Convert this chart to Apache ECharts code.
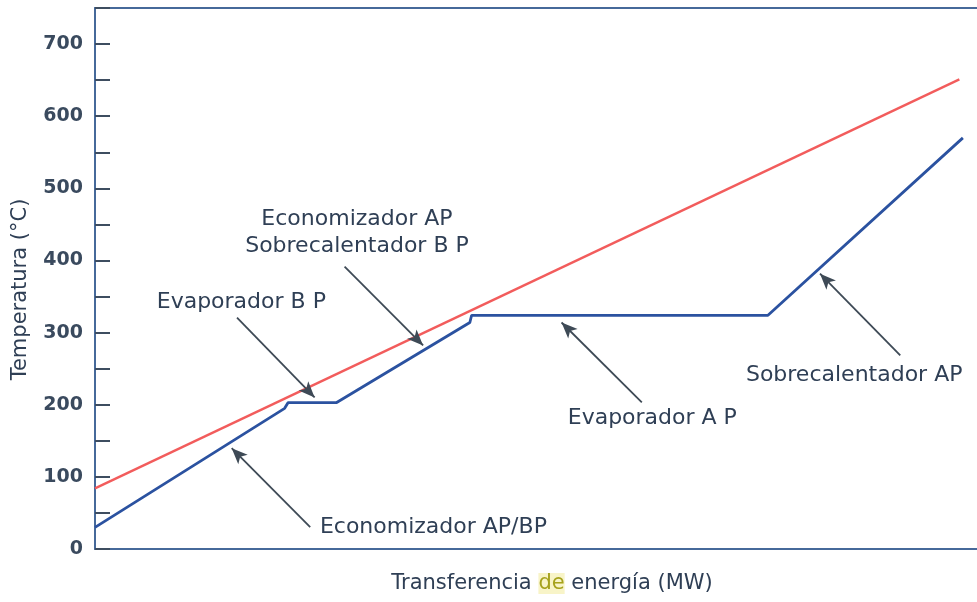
<!DOCTYPE html>
<html>
<head>
<meta charset="utf-8">
<script src="https://cdn.jsdelivr.net/npm/echarts@6/dist/echarts.min.js"></script>
<style>html,body{margin:0;padding:0;background:#fff;}#c{width:977px;height:602px;}</style>
</head>
<body>
<div id="c"></div>
<script>
// Gas (red) temperature profile: [energy transferred, temperature °C]
const gasLine = [[0, 84], [98.0, 651]];
// Water/steam (blue) temperature profile
const steamLine = [
  [0, 30], [21.5, 195], [21.9, 203], [27.4, 203], [42.5, 314],
  [42.7, 324], [76.3, 324], [98.4, 570]
];
// Y axis tick labels
const yTickLabels = [0, 100, 200, 300, 400, 500, 600, 700];
// Annotation texts and their anchor points
const noteTexts = ['Economizador AP/BP', 'Evaporador A P', 'Sobrecalentador AP', 'Evaporador B P', 'Economizador AP\nSobrecalentador B P'];
const notePoints = [[25.5, 30.4], [53.6, 181.2], [73.8, 240.7], [7.0, 341.6], [29.7, 439]];
const noteAlign = ['left', 'left', 'left', 'left', 'center'];
// Arrows: [from, to]
const arrowFrom = [[24.4, 30.4], [62.0, 203.3], [91.3, 268.3], [16.1, 320.9], [28.3, 391.4]];
const arrowTo = [[15.5, 139.7], [52.9, 314.0], [82.2, 381.7], [24.9, 210.2], [37.2, 282.2]];

const textColor = '#2f3f55';
const axisColor = '#46699a';
const font = 'DejaVu Sans';

const chart = echarts.init(document.getElementById('c'), null, {renderer: 'canvas'});
chart.setOption({
  animation: false,
  backgroundColor: '#ffffff',
  grid: {left: 95, right: 0, top: 8, bottom: 53},
  xAxis: [{
    type: 'value', min: 0, max: 100, position: 'bottom',
    axisLine: {show: true, lineStyle: {color: axisColor, width: 2}},
    axisTick: {show: false}, axisLabel: {show: false}, splitLine: {show: false},
    name: '{a|Transferencia }{b|de}{a| energía (MW)}',
    nameLocation: 'middle', nameGap: 24,
    nameTextStyle: {
      padding: [0, 0, 0, 32],
      rich: {
        a: {fontFamily: font, fontSize: 21, color: textColor},
        b: {fontFamily: font, fontSize: 21, color: '#a6a21c', backgroundColor: '#f8f4c8'}
      }
    }
  }, {
    type: 'value', min: 0, max: 100, position: 'top',
    axisLine: {show: true, lineStyle: {color: axisColor, width: 2}},
    axisTick: {show: false}, axisLabel: {show: false}, splitLine: {show: false}
  }],
  yAxis: {
    type: 'value', min: 0, max: 750, interval: 50,
    axisLine: {show: true, lineStyle: {color: axisColor, width: 2}},
    axisTick: {show: true, inside: true, length: 15, lineStyle: {color: '#3e4d60', width: 2}},
    axisLabel: {
      margin: 12, fontFamily: font, fontSize: 19, fontWeight: 'bold', color: '#3a4a5e',
      formatter: v => yTickLabels.includes(v) ? String(v) : ''
    },
    splitLine: {show: false},
    name: 'Temperatura (°C)', nameLocation: 'middle', nameGap: 64, nameRotate: 90,
    nameTextStyle: {fontFamily: font, fontSize: 21, color: textColor, padding: [0, 22, 0, 0]}
  },
  series: [
    {
      type: 'line', data: gasLine, symbol: 'none',
      lineStyle: {color: '#f25c5c', width: 2.4}
    },
    {
      type: 'line', data: steamLine, symbol: 'none',
      lineStyle: {color: '#2b52a0', width: 2.8}
    },
    {
      type: 'scatter', symbolSize: 0, silent: true,
      itemStyle: {opacity: 1},
      data: noteTexts.map((t, i) => ({
        name: t, value: notePoints[i],
        label: {align: noteAlign[i]}
      })),
      label: {
        show: true, position: 'inside', formatter: '{b}', verticalAlign: 'middle',
        fontFamily: font, fontSize: 22, color: textColor, lineHeight: 27, opacity: 1
      },
      markLine: {
        silent: true, symbol: ['none', 'arrow'], symbolSize: [10, 16],
        label: {show: false},
        lineStyle: {color: '#3e4a56', width: 1.8, type: 'solid', opacity: 1},
        data: arrowFrom.map((f, i) => [{coord: f}, {coord: arrowTo[i]}])
      }
    }
  ]
});
</script>
</body>
</html>
